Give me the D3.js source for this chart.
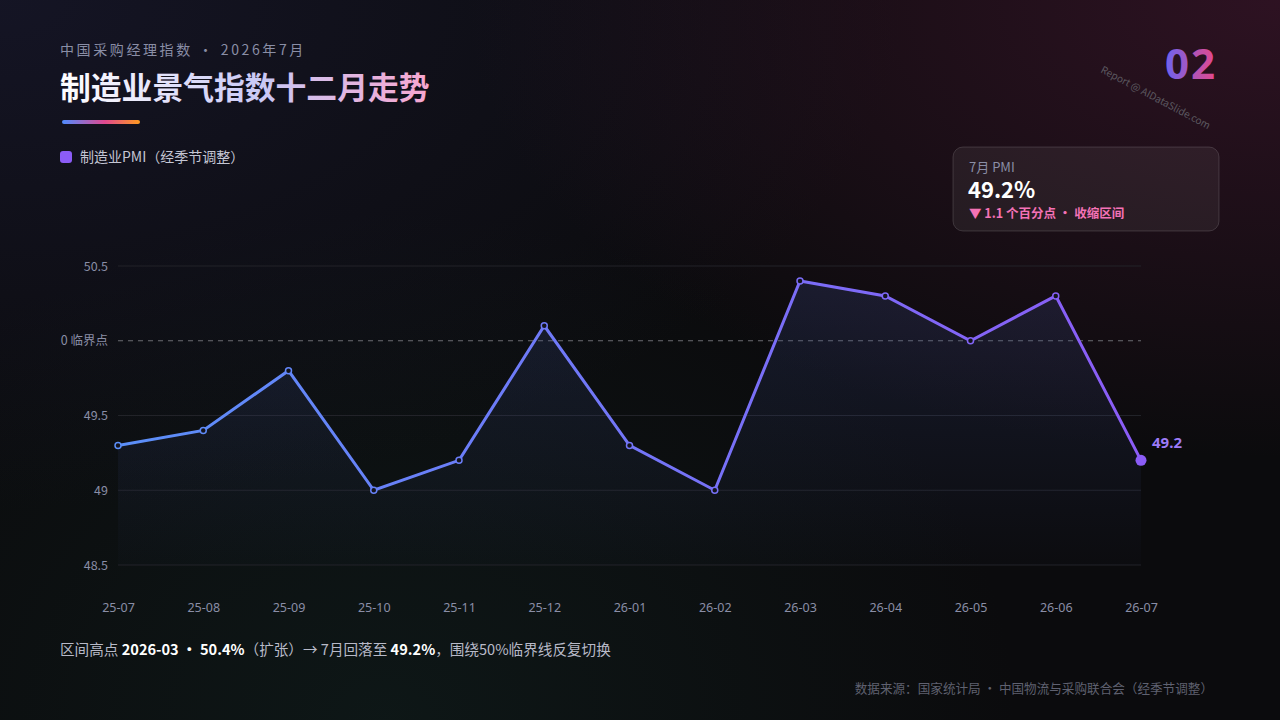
<!DOCTYPE html>
<html><head><meta charset="utf-8">
<script src="https://cdn.jsdelivr.net/npm/d3@7/dist/d3.min.js"></script>
<style>
body{margin:0;width:1280px;height:720px;overflow:hidden;font-family:"Noto Sans CJK SC","Noto Sans",sans-serif;}
#bg{position:absolute;left:0;top:0;width:1280px;height:720px;
 background:radial-gradient(ellipse at 100% 0%,rgba(80,25,55,0.5),rgba(0,0,0,0) 45%),
 radial-gradient(ellipse at 0% 0%,rgba(30,30,60,0.5),rgba(0,0,0,0) 50%),
 radial-gradient(ellipse at 30% 100%,rgba(20,50,45,0.3),rgba(0,0,0,0) 50%),#0b0b0d;}
</style></head>
<body><div id="bg"></div>
<script>
var months = ["25-07","25-08","25-09","25-10","25-11","25-12","26-01","26-02","26-03","26-04","26-05","26-06","26-07"];
var pmi = [49.3,49.4,49.8,49.0,49.2,50.1,49.3,49.0,50.4,50.3,50.0,50.3,49.2];
var yTicks = [48.5,49,49.5,50,50.5];

var w = 1280, h = 720;
var svg = d3.select("body").append("svg")
    .attr("width", w).attr("height", h)
    .style("position","absolute").style("left",0).style("top",0);

var defs = svg.append("defs");
var tg = defs.append("linearGradient").attr("id","tg");
tg.append("stop").attr("offset","0%").attr("stop-color","#ffffff");
tg.append("stop").attr("offset","55%").attr("stop-color","#c9c8f5");
tg.append("stop").attr("offset","100%").attr("stop-color","#f7a6cf");
var ug = defs.append("linearGradient").attr("id","ug");
ug.append("stop").attr("offset","0%").attr("stop-color","#4f8cff");
ug.append("stop").attr("offset","55%").attr("stop-color","#e0488f");
ug.append("stop").attr("offset","100%").attr("stop-color","#ff9a1f");
var ng = defs.append("linearGradient").attr("id","ng");
ng.append("stop").attr("offset","0%").attr("stop-color","#6c63f0");
ng.append("stop").attr("offset","100%").attr("stop-color","#e8488a");
var lg = defs.append("linearGradient").attr("id","lg").attr("gradientUnits","userSpaceOnUse")
    .attr("x1",118).attr("x2",1141).attr("y1",0).attr("y2",0);
lg.append("stop").attr("offset","0%").attr("stop-color","#5b8ff9");
lg.append("stop").attr("offset","100%").attr("stop-color","#8b5cf6");
var ag = defs.append("linearGradient").attr("id","ag").attr("x1",0).attr("x2",0).attr("y1",0).attr("y2",1);
ag.append("stop").attr("offset","0%").attr("stop-color","#3a4a8a").attr("stop-opacity",0.25);
ag.append("stop").attr("offset","100%").attr("stop-color","#3a4a8a").attr("stop-opacity",0.02);
defs.append("clipPath").attr("id","clip").append("rect").attr("x",60).attr("y",0).attr("width",1200).attr("height",720);

// header
svg.append("text").attr("x",60).attr("y",55).attr("fill","#8a8ea6").attr("font-size",14)
    .attr("letter-spacing","2.6px").text("中国采购经理指数 · 2026年7月");
svg.append("text").attr("x",60).attr("y",99).attr("fill","url(#tg)").attr("font-size",30.8)
    .attr("font-weight",700).text("制造业景气指数十二月走势");
svg.append("rect").attr("x",62).attr("y",120).attr("width",78).attr("height",4).attr("rx",2).attr("fill","url(#ug)");
svg.append("rect").attr("x",60).attr("y",151).attr("width",12).attr("height",12).attr("rx",3).attr("fill","#8b5cf6");
svg.append("text").attr("x",80).attr("y",162).attr("fill","#c4c6d4").attr("font-size",14).text("制造业PMI（经季节调整）");
svg.append("text").attr("x",1217).attr("y",79).attr("text-anchor","end").attr("fill","url(#ng)")
    .attr("font-size",42).attr("font-weight",700).attr("font-family","Noto Sans").attr("letter-spacing","2px").text("02");
svg.append("text").attr("transform","translate(1100,72) rotate(28)").attr("fill","#5c5960")
    .attr("font-size",10).text("Report @ AIDataSlide.com");

// card
svg.append("rect").attr("x",953).attr("y",147).attr("width",266).attr("height",84).attr("rx",10)
    .attr("fill","rgba(255,255,255,0.06)").attr("stroke","rgba(255,255,255,0.14)");
svg.append("text").attr("x",969).attr("y",172).attr("fill","#8a8ea6").attr("font-size",13).text("7月 PMI");
svg.append("text").attr("x",968).attr("y",198).attr("fill","#ffffff").attr("font-size",22).attr("font-weight",700).text("49.2%");
svg.append("text").attr("x",969).attr("y",218).attr("fill","#f472b6").attr("font-size",12.5).attr("font-weight",700).text("▼ 1.1 个百分点 • 收缩区间");

// chart
var x = d3.scalePoint().domain(months).range([118,1141]);
var y = d3.scaleLinear().domain([48.5,50.5]).range([565,266]);

var plot = svg.append("g").attr("clip-path","url(#clip)");
plot.selectAll(".grid").data(yTicks.filter(d => d !== 50)).enter().append("line")
    .attr("x1",118).attr("x2",1141).attr("y1",d => y(d)).attr("y2",d => y(d))
    .attr("stroke","#222329").attr("stroke-width",1);
plot.append("line").attr("x1",118).attr("x2",1141).attr("y1",y(50)).attr("y2",y(50))
    .attr("stroke","#6b6b72").attr("stroke-dasharray","5,5");

var yAxis = d3.axisLeft(y).tickValues(yTicks).tickSize(0).tickPadding(10)
    .tickFormat(d => d === 50 ? "50.0 临界点" : d3.format("")(d));
var ya = plot.append("g").attr("transform","translate(118,0)").call(yAxis);
ya.select(".domain").remove();
ya.selectAll("text").attr("fill","#8a8ea6").attr("font-size",12.5).attr("font-family","Noto Sans CJK SC");

var xAxis = d3.axisBottom(x).tickSize(0).tickPadding(10);
var xa = svg.append("g").attr("transform","translate(0,593)").call(xAxis);
xa.select(".domain").remove();
xa.selectAll("text").attr("fill","#8a8ea6").attr("font-size",12.5).attr("font-family","Noto Sans");

var pts = months.map((m,i) => [m, pmi[i]]);
var area = d3.area().x(d => x(d[0])).y0(565).y1(d => y(d[1]));
plot.append("path").datum(pts).attr("d",area).attr("fill","url(#ag)");
var line = d3.line().x(d => x(d[0])).y(d => y(d[1]));
plot.append("path").datum(pts).attr("d",line).attr("fill","none").attr("stroke","url(#lg)").attr("stroke-width",3);

var color = d3.scaleLinear().domain([118,1141]).range(["#5b8ff9","#8b5cf6"]);
plot.selectAll(".pt").data(pts.slice(0,-1)).enter().append("circle")
    .attr("cx",d => x(d[0])).attr("cy",d => y(d[1])).attr("r",3)
    .attr("fill","#14141c").attr("stroke",d => color(x(d[0]))).attr("stroke-width",1.5);
var last = pts[pts.length-1];
svg.append("circle").attr("cx",x(last[0])).attr("cy",y(last[1])).attr("r",5.5).attr("fill","#8b5cf6");
svg.append("text").attr("x",x(last[0])+11).attr("y",y(last[1])-12).attr("fill","#9d7bf7")
    .attr("font-size",15).attr("font-weight",700).attr("font-family","Noto Sans").text(last[1]);

// footer
var ft = svg.append("text").attr("x",60).attr("y",655).attr("fill","#b8bac8").attr("font-size",14.6);
ft.append("tspan").text("区间高点 ");
ft.append("tspan").attr("fill","#ffffff").attr("font-weight",700).text("2026-03 • 50.4%");
ft.append("tspan").text("（扩张）→ 7月回落至 ");
ft.append("tspan").attr("fill","#ffffff").attr("font-weight",700).text("49.2%");
ft.append("tspan").text("，围绕50%临界线反复切换");
svg.append("text").attr("x",1213).attr("y",693).attr("text-anchor","end").attr("fill","#5f6170")
    .attr("font-size",12.6).text("数据来源：国家统计局 · 中国物流与采购联合会（经季节调整）");
</script>
</body></html>
